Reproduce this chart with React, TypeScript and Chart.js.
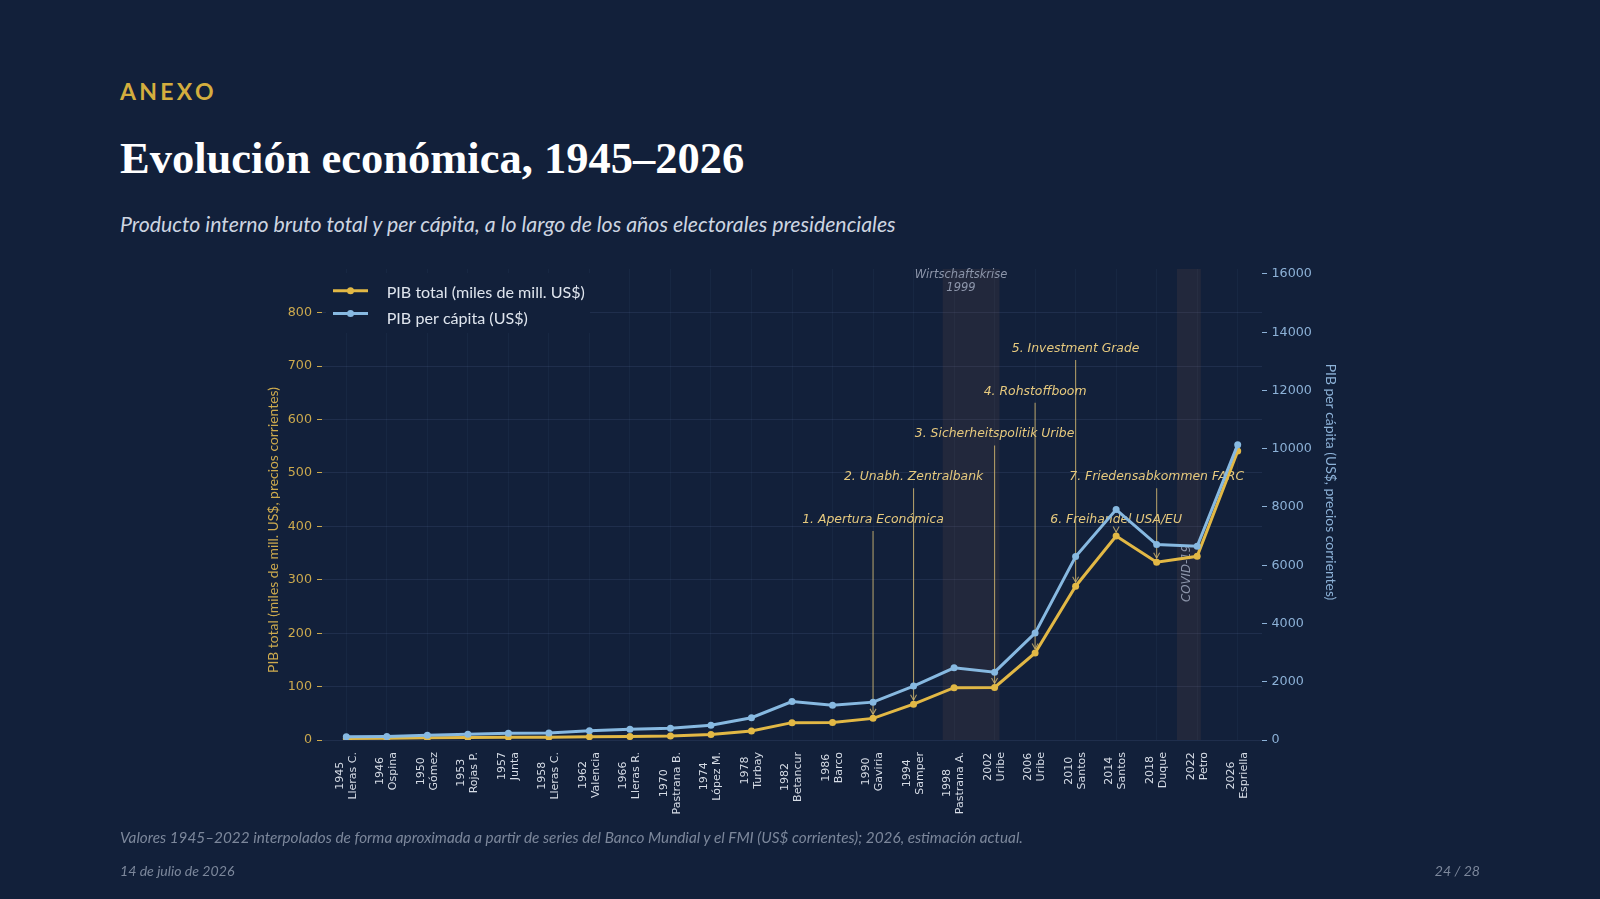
import React, { useEffect, useRef } from 'react';
import { Chart, registerables } from 'chart.js';

Chart.register(...registerables);

// ---------- data ----------
const years = ['1945', '1946', '1950', '1953', '1957', '1958', '1962', '1966', '1970', '1974', '1978', '1982', '1986', '1990', '1994', '1998', '2002', '2006', '2010', '2014', '2018', '2022', '2026'];
const presidents = ['Lleras C.', 'Ospina', 'Gómez', 'Rojas P.', 'Junta', 'Lleras C.', 'Valencia', 'Lleras R.', 'Pastrana B.', 'López M.', 'Turbay', 'Betancur', 'Barco', 'Gaviria', 'Samper', 'Pastrana A.', 'Uribe', 'Uribe', 'Santos', 'Santos', 'Duque', 'Petro', 'Espriella'];
const gdpTotal = [3, 3.3, 4, 4.5, 5, 5.2, 6, 6.5, 7.5, 10.5, 17, 32.5, 33, 40.5, 67, 98, 98.5, 163, 288, 382, 333, 344, 541];
const gdpPerCapita = [110, 120, 160, 195, 230, 240, 320, 365, 400, 510, 765, 1320, 1190, 1300, 1850, 2480, 2330, 3670, 6300, 7910, 6710, 6650, 10140];
const leftTicks = [0, 100, 200, 300, 400, 500, 600, 700, 800];
const rightTicks = [0, 2000, 4000, 6000, 8000, 10000, 12000, 14000, 16000];

const milestoneLabels = ['1. Apertura Económica', '2. Unabh. Zentralbank', '3. Sicherheitspolitik Uribe', '4. Rohstoffboom', '5. Investment Grade', '6. Freihandel USA/EU', '7. Friedensabkommen FARC'];
const milestoneIndex = [13, 14, 16, 17, 18, 19, 20];
const milestoneLevel = [413, 493, 573, 653, 733, 413, 493];

const seriesLabels = ['PIB total (miles de mill. US$)', 'PIB per cápita (US$)'];
const leftTitle = 'PIB total (miles de mill. US$, precios corrientes)';
const rightTitle = 'PIB per cápita (US$, precios corrientes)';

// ---------- style ----------
const BG = '#12203A';
const GOLD = '#E2B845';
const BLUE = '#87B9E1';
const GOLD_TICK = '#CDAA4E';
const BLUE_TICK = '#8DB2D8';
const HGRID = 'rgba(120,150,200,0.13)';
const VGRID = 'rgba(120,150,200,0.06)';
const SHADE = 'rgba(120,85,70,0.17)';
const ANN_TEXT = '#E6C97E';
const ANN_LINE = 'rgba(222,192,115,0.75)';
const NOTE_GRAY = '#8C95AA';

const overlayPlugin = {
  id: 'overlay',
  beforeDatasetsDraw(chart: any) {
    const { ctx, chartArea: ca, scales } = chart;
    const x = scales.x;
    const y = scales.y;
    ctx.save();
    // shaded crisis spans
    const spans = [[14.72, 16.12], [20.5, 21.09]];
    ctx.fillStyle = SHADE;
    spans.forEach(([a, b]) => {
      const x0 = x.getPixelForValue(a);
      const x1 = x.getPixelForValue(b);
      ctx.fillRect(x0, ca.top, x1 - x0, ca.bottom - ca.top);
    });
    ctx.fillStyle = NOTE_GRAY;
    ctx.font = 'italic 11.5px "DejaVu Sans"';
    ctx.textAlign = 'center';
    ctx.textBaseline = 'middle';
    ctx.fillText('Wirtschaftskrise', x.getPixelForValue(15.17), y.getPixelForValue(870));
    ctx.fillText('1999', x.getPixelForValue(15.17), y.getPixelForValue(846));
    ctx.save();
    ctx.translate(x.getPixelForValue(20.74), y.getPixelForValue(312));
    ctx.rotate(-Math.PI / 2);
    ctx.font = 'italic 11.8px "DejaVu Sans"';
    ctx.fillText('COVID-19', 0, 0);
    ctx.restore();

    // milestone annotations
    ctx.font = 'italic 12.4px "DejaVu Sans"';
    milestoneLabels.forEach((label, k) => {
      const idx = milestoneIndex[k];
      const px = x.getPixelForValue(idx);
      const ty = y.getPixelForValue(milestoneLevel[k]);
      ctx.fillStyle = ANN_TEXT;
      ctx.fillText(label, px, ty);
      const y0 = ty + 11.5;
      const y1 = y.getPixelForValue(gdpTotal[idx]) - 4;
      ctx.strokeStyle = ANN_LINE;
      ctx.lineWidth = 1.1;
      ctx.beginPath();
      ctx.moveTo(px, y0);
      ctx.lineTo(px, y1);
      ctx.stroke();
      ctx.beginPath();
      ctx.moveTo(px - 3, y1 - 5.5);
      ctx.lineTo(px, y1);
      ctx.lineTo(px + 3, y1 - 5.5);
      ctx.stroke();
    });
    ctx.restore();
  },
  afterDraw(chart: any) {
    const { ctx, chartArea: ca, scales } = chart;
    const x = scales.x;
    ctx.save();
    // x tick labels (two centred lines, rotated)
    ctx.font = '11px "DejaVu Sans"';
    ctx.fillStyle = '#D6DCE6';
    ctx.textAlign = 'center';
    ctx.textBaseline = 'middle';
    years.forEach((yr, i) => {
      const lines = [yr, presidents[i]];
      const w = Math.max(...lines.map((l) => ctx.measureText(l).width));
      const px = x.getPixelForValue(i);
      ctx.save();
      ctx.translate(px, ca.bottom + 12);
      ctx.rotate(-Math.PI / 2);
      lines.forEach((l, j) => ctx.fillText(l, -w / 2, (j - 0.5) * 13));
      ctx.restore();
    });

    // axis titles
    ctx.font = '13.9px Lato';
    ctx.fillStyle = GOLD_TICK;
    ctx.save();
    ctx.translate(274, 530);
    ctx.rotate(-Math.PI / 2);
    ctx.fillText(leftTitle, 0, 0);
    ctx.restore();
    ctx.fillStyle = BLUE_TICK;
    ctx.save();
    ctx.translate(1330, 482);
    ctx.rotate(Math.PI / 2);
    ctx.fillText(rightTitle, 0, 0);
    ctx.restore();

    // legend
    ctx.fillStyle = BG;
    ctx.fillRect(ca.left + 4, ca.top + 4, 264, 60);
    const colors = [GOLD, BLUE];
    const lineRows = [ca.top + 21.7, ca.top + 44.5];
    const textRows = [ca.top + 23.5, ca.top + 49.5];
    ctx.font = '16.1px Lato';
    ctx.textAlign = 'left';
    seriesLabels.forEach((label, k) => {
      const ly = lineRows[k];
      ctx.strokeStyle = colors[k];
      ctx.lineWidth = 3;
      ctx.beginPath();
      ctx.moveTo(ca.left + 11, ly);
      ctx.lineTo(ca.left + 46, ly);
      ctx.stroke();
      ctx.fillStyle = colors[k];
      ctx.beginPath();
      ctx.arc(ca.left + 28.5, ly, 3.5, 0, Math.PI * 2);
      ctx.fill();
      ctx.fillStyle = '#DFE5EE';
      ctx.fillText(label, ca.left + 64.7, textRows[k]);
    });
    ctx.restore();
  },
};

function GdpChart() {
  const ref = useRef<HTMLCanvasElement | null>(null);
  useEffect(() => {
    if (!ref.current) return;
    const chart = new Chart(ref.current, {
      type: 'line',
      data: {
        datasets: [
          {
            label: seriesLabels[0],
            data: gdpTotal.map((v, i) => ({ x: i, y: v })),
            yAxisID: 'y',
            borderColor: GOLD,
            backgroundColor: GOLD,
            borderWidth: 3,
            pointRadius: 3.5,
            pointBorderWidth: 0,
            pointBackgroundColor: GOLD,
            tension: 0,
            order: 1,
          },
          {
            label: seriesLabels[1],
            data: gdpPerCapita.map((v, i) => ({ x: i, y: v })),
            yAxisID: 'y1',
            borderColor: BLUE,
            backgroundColor: BLUE,
            borderWidth: 3,
            pointRadius: 3.5,
            pointBorderWidth: 0,
            pointBackgroundColor: BLUE,
            tension: 0,
            order: 0,
          },
        ],
      },
      options: {
        responsive: false,
        animation: false,
        layout: { padding: { left: 262, right: 258, top: 269, bottom: 99 }, autoPadding: false },
        plugins: { legend: { display: false }, tooltip: { enabled: false } },
        scales: {
          x: {
            type: 'linear',
            min: -0.6,
            max: 22.6,
            afterBuildTicks: (s: any) => {
              s.ticks = years.map((_, i) => ({ value: i }));
            },
            afterFit: (s: any) => {
              s.height = 60;
            },
            ticks: { display: false },
            grid: { color: VGRID, drawTicks: false },
            border: { display: false },
          },
          y: {
            position: 'left',
            min: 0,
            max: 882,
            afterBuildTicks: (s: any) => {
              s.ticks = leftTicks.map((v) => ({ value: v }));
            },
            afterFit: (s: any) => {
              s.width = 60;
            },
            ticks: { color: GOLD_TICK, font: { family: 'DejaVu Sans', size: 12.7 }, padding: 5, callback: (v: any) => String(v) },
            grid: { color: HGRID, tickColor: GOLD_TICK, tickLength: 5 },
            border: { display: false },
          },
          y1: {
            position: 'right',
            min: 0,
            max: 16170,
            afterBuildTicks: (s: any) => {
              s.ticks = rightTicks.map((v) => ({ value: v }));
            },
            afterFit: (s: any) => {
              s.width = 80;
            },
            ticks: { color: BLUE_TICK, font: { family: 'DejaVu Sans', size: 12.7 }, padding: 4.5, callback: (v: any) => String(v) },
            grid: { drawOnChartArea: false, tickColor: BLUE_TICK, tickLength: 5 },
            border: { display: false },
          },
        },
      } as any,
      plugins: [overlayPlugin],
    });
    return () => chart.destroy();
  }, []);
  return (
    <canvas
      ref={ref}
      width={1600}
      height={899}
      style={{ position: 'absolute', left: 0, top: 0, width: 1600, height: 899 }}
    />
  );
}

const abs = (extra: any) => ({ position: 'absolute' as const, margin: 0, whiteSpace: 'nowrap' as const, lineHeight: 1, ...extra });

export default function App() {
  useEffect(() => {
    document.body.style.background = BG;
  }, []);
  return (
    <div style={{ position: 'absolute', left: 0, top: 0, width: 1600, height: 899, background: BG, overflow: 'hidden' }}>
      <div style={abs({ left: 120, top: 80, fontFamily: 'Lato', fontWeight: 700, fontSize: 23, letterSpacing: 3.3, color: '#D4AE3E' })}>ANEXO</div>
      <div style={abs({ left: 120, top: 136, fontFamily: '"Liberation Serif"', fontWeight: 700, fontSize: 44.5, color: '#FFFFFF' })}>
        Evolución económica, 1945–2026
      </div>
      <div style={abs({ left: 120, top: 214, fontFamily: 'Lato', fontStyle: 'italic', fontSize: 21.3, color: '#CDD5E1' })}>
        Producto interno bruto total y per cápita, a lo largo de los años electorales presidenciales
      </div>
      <GdpChart />
      <div style={abs({ left: 120, top: 830, fontFamily: 'Lato', fontStyle: 'italic', fontSize: 15.3, color: '#7C879B' })}>
        Valores 1945–2022 interpolados de forma aproximada a partir de series del Banco Mundial y el FMI (US$ corrientes); 2026, estimación actual.
      </div>
      <div style={abs({ left: 120, top: 864, fontFamily: 'Lato', fontStyle: 'italic', fontSize: 14.1, color: '#7C879B' })}>
        14 de julio de 2026
      </div>
      <div style={abs({ right: 120, top: 864, fontFamily: 'Lato', fontStyle: 'italic', fontSize: 14.1, color: '#7C879B' })}>
        24 / 28
      </div>
    </div>
  );
}
